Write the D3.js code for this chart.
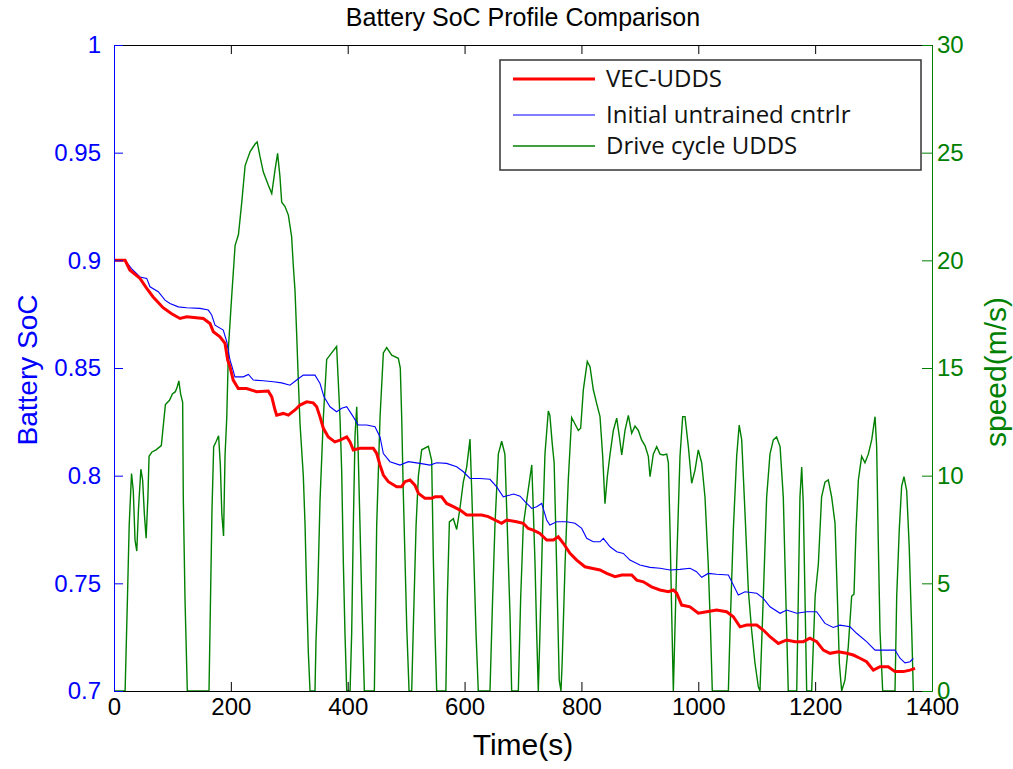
<!DOCTYPE html>
<html lang="en">
<head>
<meta charset="utf-8" />
<title>Battery SoC Profile Comparison</title>
<script src="https://d3js.org/d3.v7.min.js"></script>
<style>
  body { margin: 0; background: #fff; }
  .axis text { font-family: "Liberation Sans Narrow", "Liberation Sans", Arial, sans-serif; font-size: 24px; }
  .legend text { font-family: "Open Sans", Lato, sans-serif; font-size: 24px; fill: #111; }
</style>
</head>
<body>
<svg id="chart" width="1013" height="769"></svg>
<script>
// ---- data ----
// VEC-UDDS (trained controller) battery SoC: [time s, SoC]
var vecSoc = [[0,0.9],[19,0.9],[27,0.8955],[44.5,0.8916],[56,0.887],[67,0.883],[84,0.878],[98.7,0.8752],[113,0.873],[124.4,0.8738],[153,0.873],[164.3,0.8707],[170,0.8668],[181.4,0.8645],[190,0.8614],[194.6,0.8537],[198.5,0.8506],[204,0.8444],[212.7,0.8405],[227,0.8405],[244,0.839],[264,0.8393],[270,0.8366],[275.6,0.8305],[278.4,0.8281],[289.8,0.8289],[298.4,0.8281],[309.8,0.8305],[318.4,0.8328],[329.8,0.8343],[341,0.8338],[346.9,0.832],[352.6,0.8273],[358.3,0.822],[366.8,0.818],[378,0.8157],[386.8,0.8165],[398.3,0.818],[404,0.8157],[409.6,0.8119],[421,0.8127],[443.8,0.8127],[449.6,0.8103],[455.3,0.8049],[461,0.8003],[469.5,0.7972],[483.8,0.7948],[492,0.7948],[498,0.7972],[506.6,0.798],[515,0.7956],[521,0.7918],[532,0.7895],[543.7,0.7895],[549.4,0.7902],[560.8,0.7902],[569.3,0.7871],[580.8,0.7856],[592.2,0.784],[603.6,0.7817],[629.3,0.7817],[640.6,0.781],[652,0.7794],[663.5,0.7779],[672,0.7794],[689,0.7786],[700.5,0.7779],[709,0.7755],[717.6,0.7747],[729,0.7732],[740.5,0.7701],[752,0.7701],[760.4,0.7716],[769,0.7686],[780.4,0.7639],[791.9,0.7608],[806,0.7577],[817.6,0.757],[831.8,0.7562],[843.3,0.7546],[857.5,0.7531],[869,0.7539],[886,0.7539],[894.6,0.7515],[906,0.7507],[920,0.7484],[934.5,0.7469],[948.8,0.7461],[957.3,0.7469],[963,0.7454],[971.6,0.7399],[985.8,0.7391],[1000,0.7361],[1014.4,0.7368],[1031.4,0.7376],[1048.5,0.7368],[1060,0.7345],[1071.4,0.7298],[1082.8,0.7306],[1100,0.7306],[1111.3,0.7283],[1122.7,0.7252],[1137,0.7221],[1151.3,0.7237],[1165.5,0.7229],[1179.7,0.7229],[1191,0.7245],[1202.6,0.7229],[1214,0.719],[1225.4,0.7175],[1239.7,0.7182],[1254,0.7175],[1265.3,0.7167],[1276.8,0.7152],[1288,0.7136],[1299.6,0.7097],[1311,0.7113],[1325,0.7113],[1336.7,0.709],[1351,0.709],[1362.4,0.7097],[1371,0.7105]];

// initial untrained controller battery SoC: [time s, SoC]
var untrainedSoc = [[0,0.9],[19,0.9],[30,0.8962],[44.5,0.8923],[56,0.8916],[61.6,0.8877],[75.8,0.8854],[87.3,0.8815],[95.8,0.88],[110,0.8784],[124.4,0.878],[147.2,0.8777],[161.4,0.8769],[167.2,0.8746],[172.9,0.8699],[187,0.8676],[193,0.8622],[198.5,0.8537],[202,0.8506],[207,0.8459],[221.3,0.8459],[230,0.847],[238.4,0.8444],[255.6,0.8441],[272.6,0.8436],[287,0.8431],[301.2,0.842],[312.6,0.8444],[324,0.8467],[344,0.8467],[352.6,0.8428],[359.4,0.8366],[369.7,0.832],[381,0.8297],[389.7,0.8313],[398.3,0.832],[409.6,0.8273],[418,0.8235],[432.5,0.8235],[446.7,0.8227],[455.3,0.818],[461,0.8103],[472.4,0.8065],[489.5,0.8049],[503.7,0.8065],[523.7,0.8057],[540.8,0.8049],[552.3,0.806],[569.3,0.8057],[586.5,0.8041],[598,0.8018],[609.3,0.7987],[626.4,0.7987],[643.5,0.7983],[655,0.7948],[666.3,0.7902],[677.8,0.791],[684,0.7915],[695,0.7905],[703.4,0.7879],[715,0.7848],[723.4,0.7856],[732,0.7871],[740.5,0.7794],[746,0.7771],[757.6,0.7786],[774.7,0.7786],[789,0.7779],[800.5,0.7755],[809,0.7709],[820.3,0.7693],[831.8,0.7693],[837.5,0.7709],[849,0.767],[860.4,0.7647],[871.7,0.7639],[883,0.7608],[900,0.7585],[917.4,0.7574],[934.5,0.757],[951.6,0.7562],[968.7,0.7565],[985.8,0.757],[997,0.7554],[1005.8,0.7528],[1017,0.7546],[1031.4,0.7542],[1051.5,0.7539],[1060,0.7492],[1068.5,0.7446],[1080,0.7461],[1100,0.7454],[1111.3,0.743],[1122.7,0.7391],[1140,0.7361],[1151.3,0.7376],[1168.5,0.7361],[1185.5,0.7368],[1202.6,0.7368],[1216.8,0.7314],[1231,0.7295],[1242.5,0.7306],[1259.7,0.7298],[1271,0.7268],[1288,0.7229],[1302.5,0.719],[1336.7,0.719],[1345.2,0.7152],[1353.8,0.7131],[1362.4,0.7136],[1368,0.7152]];

// UDDS drive cycle speed: [time s, speed m/s]
var driveSpeed = [[0,0],[19,0],[23,4.3],[26,7.7],[30,10.1],[33,9.3],[36,7],[39,6.5],[42,8.5],[46,10.3],[49,9.8],[52,8.2],[55,7.1],[58,9],[60,10.9],[65,11.1],[72,11.2],[81,11.4],[85,12.5],[88,13.3],[95,13.5],[100,13.8],[105,13.9],[108,14.1],[111,14.4],[114,13.8],[117.5,13.4],[118.6,9.0],[121.5,4.3],[125.5,0],[162.6,0],[165,4.0],[167.7,8.4],[170.6,11.35],[175,11.6],[179,11.85],[182,10.5],[184.6,8.2],[187.5,7.2],[190,10.9],[193,12.7],[196,16.0],[201.6,18.4],[207.3,20.7],[213,21.2],[218.7,22.7],[224.4,24.4],[233,25.05],[241.5,25.4],[245,25.5],[250,24.8],[255.6,24.1],[264,23.5],[270,23.1],[275.6,24.2],[280,24.97],[284,23.9],[287,22.7],[292.7,22.5],[298.4,22.1],[304,21.1],[307,19.7],[309.8,18.6],[312.6,16.6],[315.5,14.4],[318.4,12.4],[324,10.0],[327,7.7],[329.8,4.5],[332.6,1.8],[335.5,0],[344,0],[345.7,2.3],[348.6,4.5],[352.6,8.85],[358.3,12.7],[364,15.4],[372.5,15.7],[381,16.0],[386.8,12.7],[389.7,10.2],[392.5,6.0],[395.3,2.7],[398.3,0],[404,0],[406.8,2.7],[409.6,7.7],[412.5,11.85],[415.4,13.2],[418,11.0],[421,7.7],[424,4.3],[428.5,0],[445.6,0],[449.6,7.7],[455.3,12.7],[461,15.7],[466.7,15.95],[475.3,15.6],[486.6,15.45],[490,15.0],[492.4,12.7],[495,9.35],[498,6.2],[501,3.0],[505,0],[509.5,0],[512.3,3.0],[517,7.7],[521,10.0],[526.6,11.2],[538,11.36],[543.7,10.7],[546.5,6.2],[549.4,2.7],[552.3,0],[568,0],[570.5,4.3],[574,7.85],[580.8,8.0],[586.5,7.5],[592.2,8.5],[597.8,9.7],[603.6,10.4],[609.3,11.7],[612.2,9.35],[616,6.0],[619.6,2.7],[623.5,0],[643.5,0],[648,4.3],[652,7.7],[657.8,11.0],[663.5,11.6],[669,11.0],[673,7.7],[677.8,3.5],[680.6,0],[692,0],[696,4.3],[700.5,7.7],[709,9.35],[715,10.5],[716.5,9.35],[720.5,6.0],[723.4,2.7],[726.2,0],[729,2.7],[733.7,7.7],[737.6,11.0],[743.3,13.0],[746,12.8],[750,11.5],[753.3,10.6],[757.5,5.9],[762,0.5],[765,0],[767,1.3],[772,5.9],[777.5,9.8],[783.3,12.7],[789,12.4],[794.7,12.1],[798.7,12.2],[803.3,14.0],[810,15.3],[814.7,15.06],[820.3,14.0],[826,13.36],[831.8,12.74],[836.4,10.9],[840.3,8.7],[844.3,9.95],[849,11.0],[854.6,12.1],[860.4,12.67],[865,11.8],[869,10.96],[874.6,12.1],[880.3,12.8],[886,11.97],[891.7,12.3],[897.4,12.1],[903,11.66],[908.8,11.4],[914.5,10.9],[917.4,9.95],[923,11.0],[928.8,11.35],[934.5,11.0],[940,10.96],[946,11.0],[948.8,10.6],[951.6,7.5],[954.5,3.6],[957.3,0],[960,2.8],[963,5.9],[968.7,10.9],[973.3,12.74],[977.3,12.74],[983,11.35],[988.7,9.65],[994.4,10.26],[1000,11.2],[1005.8,10.6],[1011.5,9.0],[1017,5.9],[1021,2.8],[1024,0],[1051.5,0],[1054.3,2.8],[1060,7.5],[1065.7,10.9],[1070,12.35],[1074.3,11.66],[1080,8.25],[1085.6,4.7],[1091.4,2.8],[1097,1.3],[1102.7,0.2],[1105.6,0],[1111.3,4.4],[1117,9.0],[1122.7,11.0],[1128.4,11.66],[1134,11.8],[1140,11.35],[1145.5,9.0],[1148.4,5.9],[1151.3,2.8],[1154,0],[1168.5,0],[1171.2,4.4],[1174,9.0],[1177,10.4],[1179.7,8.7],[1182.6,4.4],[1185.5,0],[1194,0],[1200,4.4],[1205.5,5.9],[1211,9.0],[1216.8,9.7],[1222.5,9.8],[1228.3,9.0],[1234,7.8],[1238,4.4],[1241.4,1.3],[1245.4,0],[1251,0.5],[1256.7,2.06],[1262.5,4.4],[1266.5,4.5],[1270,7.5],[1274,9.8],[1279.6,10.9],[1285.3,10.6],[1291,11.0],[1296.8,11.66],[1302.5,12.74],[1305.3,11.35],[1308,7.0],[1311,2.8],[1315.6,0],[1336.7,0],[1339.6,4.4],[1344,7.5],[1348,9.5],[1352,9.95],[1356.7,9.3],[1361,6.7],[1365.3,2.8],[1368,0]];

var timeTicks = [0, 200, 400, 600, 800, 1000, 1200, 1400];
var socTicks = [0.7, 0.75, 0.8, 0.85, 0.9, 0.95, 1];
var speedTicks = [0, 5, 10, 15, 20, 25, 30];
var legendLabels = ["VEC-UDDS", "Initial untrained cntrlr", "Drive cycle UDDS"];

var blue = "#0000ff", green = "#008000", red = "#ff0000";

var margin = { top: 45, right: 81, bottom: 78, left: 114 },
    W = 1013, H = 769,
    width = W - margin.left - margin.right,
    height = H - margin.top - margin.bottom;

var svg = d3.select("#chart");
svg.append("rect").attr("width", W).attr("height", H).attr("fill", "#fff");

var g = svg.append("g").attr("transform", `translate(${margin.left},${margin.top})`);

var x = d3.scaleLinear().domain([0, 1400]).range([0, width]);
var yL = d3.scaleLinear().domain([0.7, 1]).range([height, 0]);
var yR = d3.scaleLinear().domain([0, 30]).range([height, 0]);

g.append("clipPath").attr("id", "clip")
  .append("rect").attr("width", width).attr("height", height + 1);

var plot = g.append("g").attr("clip-path", "url(#clip)");

// drive cycle first (sits under the SoC curves)
plot.append("path").datum(driveSpeed)
  .attr("fill", "none").attr("stroke", green).attr("stroke-width", 1.4)
  .attr("d", d3.line().x(d => x(d[0])).y(d => yR(d[1])));

plot.append("path").datum(untrainedSoc)
  .attr("fill", "none").attr("stroke", blue).attr("stroke-width", 1.1)
  .attr("d", d3.line().x(d => x(d[0])).y(d => yL(d[1])));

plot.append("path").datum(vecSoc)
  .attr("fill", "none").attr("stroke", red).attr("stroke-width", 3)
  .attr("d", d3.line().x(d => x(d[0])).y(d => yL(d[1])));

// axes, matlab style: ticks pointing inside
var fmt = d => String(+d.toFixed(2));

g.append("g").attr("class", "axis")
  .call(d3.axisTop(x).tickValues(timeTicks).tickSize(-9).tickSizeOuter(0).tickFormat(""))
  .call(a => a.selectAll("line,path").attr("stroke", "#000"));

g.append("g").attr("class", "axis").attr("transform", `translate(0,${height})`)
  .call(d3.axisBottom(x).tickValues(timeTicks).tickSize(-9).tickSizeOuter(0).tickPadding(7).tickFormat(fmt))
  .call(a => a.selectAll("line,path").attr("stroke", "#000"))
  .call(a => a.selectAll("text").attr("fill", "#000"));

g.append("g").attr("class", "axis")
  .call(d3.axisLeft(yL).tickValues(socTicks).tickSize(-9).tickSizeOuter(0).tickPadding(13).tickFormat(fmt))
  .call(a => a.selectAll("line,path").attr("stroke", blue))
  .call(a => a.selectAll("text").attr("fill", blue));

g.append("g").attr("class", "axis").attr("transform", `translate(${width},0)`)
  .call(d3.axisRight(yR).tickValues(speedTicks).tickSize(-10).tickSizeOuter(0).tickPadding(5).tickFormat(fmt))
  .call(a => a.selectAll("line,path").attr("stroke", green))
  .call(a => a.selectAll("text").attr("fill", green));

// titles
svg.append("text").attr("x", margin.left + width / 2).attr("y", 26)
  .attr("text-anchor", "middle")
  .style("font-family", '"Liberation Sans Narrow", "Liberation Sans", sans-serif')
  .style("font-size", "25px").text("Battery SoC Profile Comparison");

svg.append("text").attr("x", margin.left + width / 2).attr("y", 755)
  .attr("text-anchor", "middle")
  .style("font-family", '"Liberation Sans Narrow", "Liberation Sans", sans-serif')
  .style("font-size", "30px").text("Time(s)");

svg.append("text").attr("transform", "translate(37,370) rotate(-90)")
  .attr("text-anchor", "middle").attr("fill", blue)
  .style("font-family", '"Liberation Sans", Arial, sans-serif')
  .style("font-size", "28px").text("Battery SoC");

svg.append("text").attr("transform", "translate(1006,372) rotate(-90)")
  .attr("text-anchor", "middle").attr("fill", green)
  .style("font-family", '"Liberation Sans", Arial, sans-serif')
  .style("font-size", "30px").text("speed(m/s)");

// legend
var legend = svg.append("g").attr("class", "legend").attr("transform", "translate(500,60)");
legend.append("rect").attr("width", 421).attr("height", 110)
  .attr("fill", "#fff").attr("stroke", "#333").attr("stroke-width", 1.5);

var legendStyle = [
  { color: red, w: 3, y: 19 },
  { color: blue, w: 1.2, y: 55 },
  { color: green, w: 1.4, y: 86 }
];
legendLabels.forEach(function (label, i) {
  var s = legendStyle[i];
  legend.append("line").attr("x1", 13).attr("x2", 95).attr("y1", s.y).attr("y2", s.y)
    .attr("stroke", s.color).attr("stroke-width", s.w);
  legend.append("text").attr("x", 106).attr("y", s.y).attr("dy", "0.35em").text(label);
});
</script>
</body>
</html>
